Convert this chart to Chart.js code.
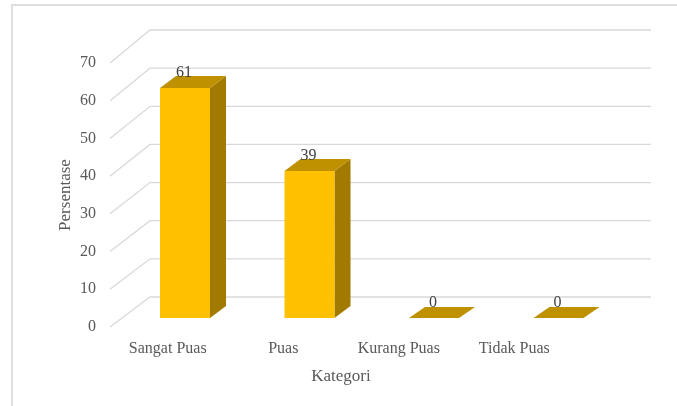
<!DOCTYPE html>
<html><head><meta charset="utf-8">
<script src="https://cdn.jsdelivr.net/npm/chart.js@4/dist/chart.umd.min.js"></script>
<style>html,body{margin:0;padding:0;background:#fff;}canvas{display:block}</style>
</head><body>
<canvas id="c" width="677" height="406"></canvas>
<script>
const categories = ['Sangat Puas', 'Puas', 'Kurang Puas', 'Tidak Puas'];
const values = [61, 39, 0, 0];
const barSlots = [0, 1, 2, 3];
const yMin = 0, yMax = 70, yStep = 10;
const xTitle = 'Kategori';
const yTitle = 'Persentase';

const FONT = 'Liberation Serif';
const GRID = '#d9d9d9';
const TEXT = '#595959';

const threeD = {
  id: 'threeD',
  beforeDraw(chart) {
    const ctx = chart.ctx;
    ctx.save();
    ctx.strokeStyle = '#dedede';
    ctx.lineWidth = 2;
    ctx.beginPath();
    ctx.moveTo(12, chart.height);
    ctx.lineTo(12, 5);
    ctx.lineTo(chart.width, 5);
    ctx.stroke();
    ctx.restore();
  },
  beforeDatasetsDraw(chart) {
    const {ctx, chartArea: a, scales: {y}} = chart;
    const base = y.getPixelForValue(yMin), top = y.getPixelForValue(yMax);
    const bBase = base - 30, bTop = top - 33;
    const backY = fy => bBase + (fy - base) * (bTop - bBase) / (top - base);
    ctx.save();
    ctx.strokeStyle = GRID;
    ctx.lineWidth = 1.3;
    y.ticks.forEach(t => {
      const fy = y.getPixelForValue(t.value);
      const by = backY(fy);
      ctx.beginPath();
      ctx.moveTo(a.left, fy);
      ctx.lineTo(a.left + 40, by);
      ctx.lineTo(a.right + 79, by);
      ctx.stroke();
    });
    ctx.restore();
  },
  afterDatasetsDraw(chart) {
    const ctx = chart.ctx;
    const meta = chart.getDatasetMeta(0);
    const dx = 16, dy = -12;
    ctx.save();
    meta.data.forEach((el, i) => {
      const w = el.width;
      const x0 = el.x - w / 2, x1 = el.x + w / 2;
      const yt = el.y - 9, yb = el.base - 9;
      const poly = (pts, col) => {
        ctx.fillStyle = col;
        ctx.beginPath();
        ctx.moveTo(pts[0][0], pts[0][1]);
        for (let k = 1; k < pts.length; k++) ctx.lineTo(pts[k][0], pts[k][1]);
        ctx.closePath();
        ctx.fill();
      };
      if (values[i] > 0) {
        poly([[x1, yt], [x1 + dx, yt + dy], [x1 + dx, yb + dy], [x1, yb]], '#A27A00');
        poly([[x0, yt], [x0 + dx, yt + dy], [x1 + dx, yt + dy], [x1, yt]], '#BF9000');
        poly([[x0, yt], [x1, yt], [x1, yb], [x0, yb]], '#FFC000');
      } else {
        poly([[x0, yb], [x0 + dx, yb + dy + 1], [x1 + dx, yb + dy + 1], [x1, yb]], '#BF9000');
      }
      ctx.fillStyle = '#404040';
      ctx.font = '16px "' + FONT + '"';
      ctx.textAlign = 'center';
      ctx.textBaseline = 'middle';
      ctx.fillText(String(values[i]), el.x - 1, yt - 15);
    });
    ctx.restore();
  }
};

new Chart(document.getElementById('c'), {
  type: 'bar',
  data: {
    labels: categories,
    datasets: [{
      data: values.map((v, i) => ({x: barSlots[i], y: v})),
      xAxisID: 'xb',
      yAxisID: 'y',
      backgroundColor: 'rgba(0,0,0,0)',
      borderWidth: 0,
      barThickness: 50
    }]
  },
  options: {
    responsive: false,
    animation: false,
    events: [],
    layout: {padding: {left: 55, right: 105, top: 63, bottom: 19}},
    plugins: {legend: {display: false}, tooltip: {enabled: false}},
    scales: {
      x: {
        type: 'category',
        labels: categories,
        offset: true,
        position: 'bottom',
        grid: {display: false, drawTicks: false},
        border: {display: false},
        ticks: {padding: 12, color: TEXT, font: {family: FONT, size: 16}, maxRotation: 0, autoSkip: false},
        title: {display: true, text: xTitle, color: TEXT, font: {family: FONT, size: 17}, padding: 0},
        afterFit(s) { s.height = 60; }
      },
      xb: {type: 'linear', display: false, offset: false, grid: {offset: false}, min: -0.6024, max: 3.1084},
      y: {
        type: 'linear',
        position: 'left',
        min: yMin, max: yMax,
        grid: {display: false, drawTicks: false},
        border: {display: false},
        ticks: {stepSize: yStep, padding: 14, color: TEXT, font: {family: FONT, size: 16}},
        title: {display: true, text: yTitle, color: TEXT, font: {family: FONT, size: 17}, padding: 0},
        afterFit(s) { s.width = 55; }
      }
    }
  },
  plugins: [threeD]
});
</script>
</body></html>
